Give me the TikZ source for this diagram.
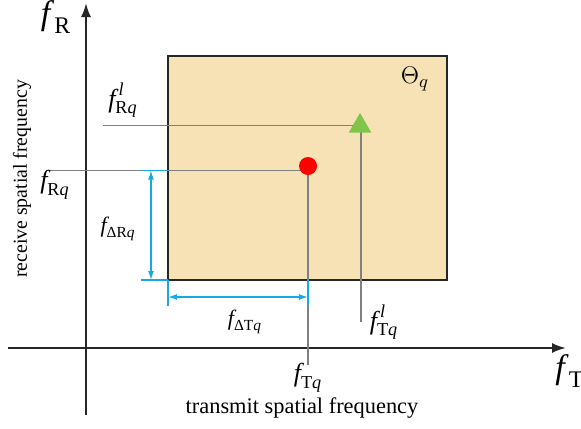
\documentclass[tikz,border=0pt]{standalone}
\usepackage{amsmath}
\usepackage{fontspec}
\setmainfont{Liberation Serif}
\usetikzlibrary{arrows.meta, shapes.geometric, positioning}
\definecolor{regionfill}{RGB}{247,226,182}
\definecolor{dimblue}{RGB}{20,170,230}
\definecolor{markgreen}{RGB}{128,196,72}
\newcommand{\fv}{\textit{f}}
\tikzset{
  axis/.style={line width=1pt, draw=black!85, -{Latex[length=7pt,width=5pt]}},
  guide/.style={line width=0.6pt, draw=black!50},
  dimline/.style={line width=0.7pt, draw=dimblue},
  dimarrow/.style={dimline, {Latex[length=4.5pt,width=3pt]}-{Latex[length=4.5pt,width=3pt]}},
  biglbl/.style={inner sep=0pt, font=\fontsize{17}{19}\selectfont},
  ptlbl/.style={inner sep=0pt, font=\fontsize{13}{15}\selectfont},
  dlbl/.style={inner sep=0pt, font=\fontsize{11}{13}\selectfont},
}
\begin{document}
\begin{tikzpicture}[x=0.5pt, y=-0.5pt]
\useasboundingbox (0,0) rectangle (581,428);
% region Theta_q
\draw[fill=regionfill, draw=black!85, line width=1pt] (168,56) rectangle (447,280);
\node[inner sep=0pt, font=\fontsize{13}{15}\selectfont] (theta) at (415,79) {$\Theta_q$};

% axes
\coordinate (xstart) at (8,348);
\coordinate (xend) at (566,348);
\coordinate (ystart) at (86,415);
\coordinate (yend) at (86,3);
\draw[axis] (xstart) -- (xend);
\draw[axis] (ystart) -- (yend);
\node[biglbl, anchor=west] (fT) at (555,371) {\(\fv_{\,\text{T}}\)};
\node[biglbl] (fR) at (56,17) {\(\fv_{\,\text{R}}\)};
\node[font=\fontsize{11.2}{13}\selectfont, inner sep=0pt] (xtitle) at (302,408) {transmit spatial frequency};
\node[font=\fontsize{9.9}{12}\selectfont, inner sep=0pt, rotate=90] (ytitle) at (22,179) {receive spatial frequency};

% guide lines
\coordinate (rqstart) at (48,170.5);
\coordinate (tqend) at (308,365);
\coordinate (rlstart) at (103,125.7);
\coordinate (tlend) at (361,322);
\draw[guide] (rqstart) -| (tqend);
\draw[guide] (rlstart) -| (tlend);

% points
\node[circle, fill=red, inner sep=0pt, minimum size=9pt] (pt) at (308,166) {};
\node[regular polygon, regular polygon sides=3, fill=markgreen, inner sep=0pt, minimum size=13pt] (tri) at (360,126) {};

% point labels
\node[ptlbl] (fRql) at (123,100) {\(\fv^{\,\textit{l}}_{\text{R}\textit{q}}\)};
\node[ptlbl] (fRq) at (55,185) {\(\fv_{\text{R}\textit{q}}\)};
\node[ptlbl] (fTql) at (384,322) {\(\fv^{\,\textit{l}}_{\text{T}\textit{q}}\)};
\node[ptlbl] (fTq) at (308,378) {\(\fv_{\text{T}\textit{q}}\)};

% dimensions
\coordinate (rtop) at (168,170.5);
\coordinate (rbot) at (168,280);
\coordinate (etop) at (141,170.5);
\coordinate (ebot) at (141,280);
\coordinate (tleft) at (168,306);
\coordinate (tright) at (308,306);
\coordinate (pbot) at (308,280);
\draw[dimline] (etop) -- (rtop);
\draw[dimline] (ebot) -- (rbot);
\draw[dimline] (rbot) -- (tleft);
\draw[dimline] (pbot) -- (tright);
\draw[dimarrow] (151,170.5) -- (151,280);
\draw[dimarrow] (168,297) -- (308,297);
\node[dlbl] (fdR) at (118,229) {\(\fv_{\text{ΔR}\textit{q}}\)};
\node[dlbl] (fdT) at (245,322) {\(\fv_{\text{ΔT}\textit{q}}\)};
\end{tikzpicture}
\end{document}
